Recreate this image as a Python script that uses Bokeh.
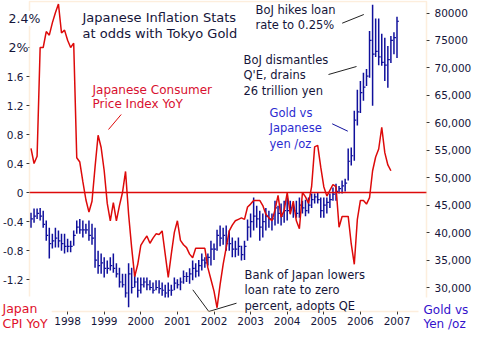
import pandas as pd
from bokeh.plotting import figure
from bokeh.models import Range1d, LinearAxis, FixedTicker, Label, BoxAnnotation
from bokeh.embed import file_html
from bokeh.resources import INLINE

# ---------------- data ----------------
months = pd.date_range("1997-01-01", periods=121, freq="MS")
t_all = [d.year + (d.month - 1) / 12.0 for d in months]

cpi_yoy = [0.61, 0.40, 0.50, 2.0, 2.0, 2.22, 2.17, 2.34, 2.48, 2.6, 2.2, 2.24,
           2.1, 2.0, 2.06, 0.48, 0.42, 0.15, -0.1, -0.27, -0.12, 0.35, 0.79, 0.62,
           0.3, -0.15, -0.39, -0.14, -0.39, -0.18, 0.0, 0.29, -0.3, -0.76, -1.16, -0.99,
           -0.73, -0.66, -0.6, -0.7, -0.63, -0.57, -0.58, -0.53, -0.85, -1.17, -0.85, -0.55,
           -0.39, -0.66, -0.72, -0.76, -0.85, -0.9, -0.77, -0.77, -0.77, -0.77, -1.04, -1.2,
           -1.36, -1.59, -1.27, -0.99, -0.76, -0.53, -0.45, -0.39, -0.37, -0.35, -0.37, -0.2,
           -0.16, -0.11, -0.11, -0.11, -0.18, -0.3, -0.35, -0.39, -0.24, -0.04, -0.34, -0.25,
           0.0, -0.3, -0.12, -0.39, -0.5, 0.0, -0.06, -0.15, 0.08, 0.63, 0.65, 0.35,
           0.08, -0.05, 0.03, 0.11, 0.08, -0.48, -0.33, -0.33, -0.33, -0.71, -0.99, -0.37,
           -0.11, -0.11, -0.16, -0.07, 0.3, 0.49, 0.6, 0.9, 0.55, 0.38, 0.3]

gold_high = [43600, 44400, 44400, 44500, 44000, 42200, 40900, 39800, 40900, 40400, 39800, 39800,
             38900, 38500, 40400, 42200, 42500, 42200, 41600, 42200, 41600, 40900, 36700, 36200,
             35500, 34900, 35500, 36200, 34400, 33600, 32500, 32500, 34400, 33600, 32500, 31800,
             31800, 31800, 31800, 31300, 30900, 31300, 31300, 30900, 30500, 30900, 30500, 31800,
             31500, 31800, 33100, 32800, 33500, 34900, 34400, 35000, 36200, 35500, 36200, 38500,
             38000, 40500, 41300, 40900, 41300, 40400, 39100, 38500, 39100, 37600, 38500, 42400,
             43500, 46400, 44900, 44000, 43500, 44500, 44000, 43500, 45800, 44900, 45300, 45800,
             46400, 45800, 45300, 45800, 46400, 45800, 46000, 46400, 47100, 47100, 47300, 46400,
             46400, 46400, 47100, 48200, 48900, 48500, 49500, 49800, 55300, 55500, 62200, 66000,
             67600, 69100, 69800, 76700, 81500, 79000, 79000, 76200, 75500, 74000, 75800, 76500,
             79300]
gold_low = [40900, 41800, 42500, 42200, 40900, 38500, 35300, 37100, 37300, 37300, 36700, 36200,
            36400, 36400, 37600, 39800, 39800, 39100, 39800, 38500, 37800, 33600, 32500, 32500,
            31800, 32500, 33100, 32700, 31800, 30000, 30000, 28200, 26400, 28900, 30000, 28200,
            28900, 30000, 29500, 29500, 28900, 29500, 28900, 28500, 28200, 28200, 28500, 29500,
            29800, 29500, 30700, 31000, 30700, 31300, 31800, 32000, 33100, 33600, 34000, 34000,
            35000, 36700, 37500, 37800, 36700, 36700, 35500, 35500, 35800, 34900, 35000, 38500,
            39100, 40400, 40900, 38500, 39100, 40400, 40900, 40400, 41300, 41600, 41300, 41800,
            42200, 43500, 42700, 42700, 42700, 43500, 43000, 43500, 44500, 45300, 45300, 42700,
            42700, 43500, 44500, 45800, 45800, 47100, 47100, 47500, 49500, 52200, 53100, 59500,
            61800, 64000, 66700, 68200, 63100, 72000, 70500, 70400, 67600, 66400, 70900, 72500,
            71800]
gold_close = [42500, 43000, 43500, 43000, 41500, 39500, 38000, 38500, 39000, 38500, 38000, 37500,
              37500, 37500, 39500, 41000, 40500, 40500, 40500, 39500, 39000, 35000, 34000, 34500,
              33500, 33500, 34000, 33500, 32500, 31000, 30500, 29000, 32500, 30000, 31000, 29500,
              30500, 31000, 30500, 30000, 29500, 30000, 29800, 29500, 29000, 29500, 29500, 30800,
              30500, 31000, 32000, 32000, 32500, 33500, 33000, 34000, 35000, 34500, 35500, 37000,
              37000, 39500, 39000, 39500, 38000, 38000, 37000, 37000, 37500, 36000, 37500, 41000,
              42000, 43000, 42500, 41000, 42000, 43000, 42500, 42500, 44500, 43500, 43000, 44000,
              44000, 44500, 44000, 43500, 45000, 44500, 44000, 45000, 46000, 46500, 46000, 44000,
              45000, 45500, 46000, 47000, 47500, 48000, 48500, 49000, 53000, 54000, 60500, 62000,
              65500, 66500, 68500, 75000, 72500, 73000, 72000, 71000, 70500, 71500, 75000, 75500,
              78500]

cpi_ticks = [2.4, 2.0, 1.6, 1.2, 0.8, 0.4, 0.0, -0.4, -0.8, -1.2]
cpi_tick_labels = ["2.4%", "2%", "1.6", "1.2", "0.8", "0.4", "0", "-0.4", "-0.8", "-1.2"]
gold_ticks = [80000, 75000, 70000, 65000, 60000, 55000, 50000, 45000, 40000, 35000, 30000]
gold_tick_labels = ["80000", "75000", "70,000", "65,000", "60,000", "55,000", "50,000",
                    "45,000", "40,000", "35,000", "30,000"]
year_ticks = [1998, 1999, 2000, 2001, 2002, 2003, 2004, 2005, 2006, 2007]

title_text = "Japanese Inflation Stats\nat odds with Tokyo Gold"
cpi_note = "Japanese Consumer\nPrice Index YoY"
gold_note = "Gold vs\nJapanese\nyen /oz"
hike_note = "BoJ hikes loan\nrate to 0.25%"
qe_end_note = "BoJ dismantles\nQ'E, drains\n26 trillion yen"
qe_start_note = "Bank of Japan lowers\nloan rate to zero\npercent, adopts QE"
left_title = "Japan\nCPI YoY"
right_title = "Gold vs\nYen /oz"

# ---------------- geometry (pixel <-> data) ----------------
W, H = 480, 350
BOX_L, BOX_R, BOX_T, BOX_B = 29, 426, 1, 311   # orange chart box, in pixels


def X(px):   # pixel column -> year
    return 1997.0 + (px - 30.5) / 36.6


def Y(py):   # pixel row -> CPI %
    return (192.0 - py) / 72.5


def G(py):   # pixel row -> yen per oz
    return 30000.0 + (287.0 - py) / 5.49 * 1000.0


RED = "#dd0a0a"
NAVY = "#10109c"
ORANGE = "#f8c890"
TXT = "#15153a"
FONT = "DejaVu Sans"

p = figure(width=W, height=H, output_backend="svg", toolbar_location=None,
           x_range=Range1d(X(0), X(W)), y_range=Range1d(Y(H), Y(0)),
           min_border_left=0, min_border_right=0, min_border_top=0, min_border_bottom=0,
           background_fill_color="white", border_fill_color="white")
p.extra_y_ranges = {"gold": Range1d(G(H), G(0))}
p.grid.visible = False
p.outline_line_color = None

# orange chart box
p.add_layout(BoxAnnotation(left=X(BOX_L), right=X(BOX_R), top=Y(BOX_T), bottom=Y(BOX_B),
                           fill_alpha=0, line_color=ORANGE, line_width=1.5))

# gold high-low bars with close ticks
p.segment(x0=t_all, y0=gold_low, x1=t_all, y1=gold_high, y_range_name="gold",
          line_color=NAVY, line_width=1.5)
close_end = [ti + 0.055 for ti in t_all]
p.segment(x0=t_all, y0=gold_close, x1=close_end, y1=gold_close, y_range_name="gold",
          line_color=NAVY, line_width=1.2)

# zero line across the box, then CPI
p.segment(x0=[X(BOX_L)], y0=[0], x1=[X(BOX_R)], y1=[0], line_color=RED, line_width=1.5)
p.line(t_all[:len(cpi_yoy)], cpi_yoy, line_color=RED, line_width=1.5)

# axes, pinned to the box edges
ya = p.yaxis[0]
ya.fixed_location = X(BOX_L)
ya.ticker = FixedTicker(ticks=cpi_ticks)
ya.major_label_text_color = None
ya.major_tick_out = 3
ya.major_tick_in = 0
ya.minor_tick_out = 0
ya.minor_tick_in = 0
ya.axis_line_color = None
ya.major_tick_line_color = "#333333"

xa = p.xaxis[0]
xa.fixed_location = Y(BOX_B)
xa.ticker = FixedTicker(ticks=year_ticks)
xa.major_tick_out = 3
xa.major_tick_in = 0
xa.minor_tick_out = 0
xa.minor_tick_in = 0
xa.axis_line_color = None
xa.major_tick_line_color = "#333333"
xa.major_label_standoff = 2
xa.major_label_text_font = FONT
xa.major_label_text_font_size = "10.5px"
xa.major_label_text_color = TXT

ga = LinearAxis(y_range_name="gold", ticker=FixedTicker(ticks=gold_ticks),
                major_label_overrides=dict(zip(gold_ticks, gold_tick_labels)))
ga.fixed_location = X(BOX_R)
ga.major_tick_out = 3
ga.major_tick_in = 0
ga.minor_tick_out = 0
ga.minor_tick_in = 0
ga.axis_line_color = None
ga.major_tick_line_color = "#333333"
ga.major_label_standoff = 5
ga.major_label_text_font = FONT
ga.major_label_text_font_size = "10.5px"
ga.major_label_text_color = TXT
p.add_layout(ga, "right")

# left tick labels
for tv, tl in zip(cpi_ticks, cpi_tick_labels):
    if "%" in tl:
        p.add_layout(Label(x=X(8), y=tv, text=tl, text_align="left", text_baseline="middle",
                           text_font=FONT, text_font_size="12.5px", text_color=TXT,
                           background_fill_color="white"))
    else:
        p.add_layout(Label(x=X(23), y=tv, text=tl, text_align="right", text_baseline="middle",
                           text_font=FONT, text_font_size="10.5px", text_color=TXT))


def note(text, px, py, color, size, lh=1.1, bg=None, pad=0):
    # (px, py) is the top-left of the text itself; padding grows the box outward
    p.add_layout(Label(x=X(px - pad), y=Y(py - pad), text=text, text_align="left",
                       text_baseline="top", text_font=FONT, text_font_size=size,
                       text_color=color, text_line_height=lh,
                       background_fill_color=bg, padding=pad))


note(title_text, 82, 9, TXT, "13px", 1.08)
note(cpi_note, 92, 82, "#d81030", "12px", 1.05)
note(hike_note, 255, 2.5, TXT, "11.5px")
note(qe_end_note, 243, 52.5, TXT, "11.5px")
note(gold_note, 269, 105.5, "#2b2bd0", "11.5px")
note(qe_start_note, 244, 267.5, TXT, "11.5px", 1.1)
note(left_title, 2, 300, "#e0102a", "12.5px", 1.02, "white", 4)
note(right_title, 423, 302, "#3311cc", "12px", 1.02, "white", 5)

# pointer lines (pixel positions of the callouts)
pointers = [
    ([120.7, 108.0], [114.0, 129.0], RED),
    ([341.7, 363.3], [22.7, 14.0], "#222222"),
    ([328.0, 356.0], [74.0, 66.0], "#222222"),
    ([331.7, 347.3], [123.3, 130.7], NAVY),
    ([192.3, 208.3, 236.0], [289.3, 311.0, 302.7], "#222222"),
]
for xs, ys, c in pointers:
    p.line([X(v) for v in xs], [Y(v) for v in ys], line_color=c, line_width=1)

open("out.html", "w").write(file_html(p, INLINE))
